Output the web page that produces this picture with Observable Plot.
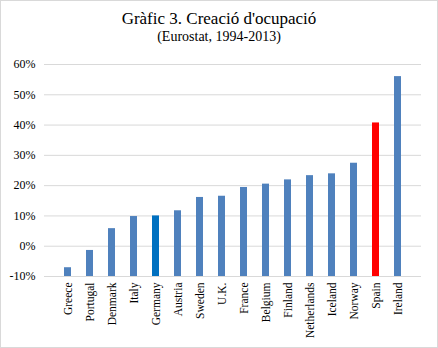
<!DOCTYPE html>
<html>
<head>
<meta charset="utf-8">
<script src="https://cdn.jsdelivr.net/npm/d3@7"></script>
<script src="https://cdn.jsdelivr.net/npm/@observablehq/plot@0.6"></script>
<style>
  html, body { margin: 0; padding: 0; background: #fff; }
  #wrap { position: relative; width: 438px; height: 348px; overflow: hidden; background: #fff; font-family: "Liberation Serif", "Times New Roman", serif; }
  #frame { position: absolute; left: 0; top: 0; width: 436px; height: 346px; border: 1px solid #d9d9d9; pointer-events: none; }
  #title { position: absolute; left: 0; width: 438px; top: 9px; text-align: center; font-size: 17px; color: #000; line-height: 20px; }
  #subtitle { position: absolute; left: 0; width: 438px; top: 28px; text-align: center; font-size: 14px; color: #000; line-height: 17px; }
  #chart { position: absolute; left: 0; top: 50px; }
  #chart svg text { font-family: "Liberation Serif", "Times New Roman", serif !important; }
</style>
</head>
<body>
<div id="wrap">
  <div id="title">Gràfic 3. Creació d'ocupació</div>
  <div id="subtitle">(Eurostat, 1994-2013)</div>
  <div id="chart"></div>
  <div id="frame"></div>
</div>
<script>
const countries = ["Greece","Portugal","Denmark","Italy","Germany","Austria","Sweden","U.K.","France","Belgium","Finland","Netherlands","Iceland","Norway","Spain","Ireland"];
const values = [-7.1, -1.4, 5.8, 9.8, 10.0, 11.7, 16.1, 16.5, 19.4, 20.5, 21.9, 23.3, 23.9, 27.4, 40.7, 56.0];
const yTicks = [-10, 0, 10, 20, 30, 40, 50, 60];
const highlight = {"Germany": "#0070C0", "Spain": "#FF0000"};
const baseColor = "#4F81BD";

const data = countries.map((c, i) => ({country: c, value: values[i]}));

const chart = Plot.plot({
  width: 438,
  height: 296,
  marginTop: 14,
  marginBottom: 70,
  marginLeft: 44,
  marginRight: 17,
  style: { fontSize: "12px", color: "#000", background: "transparent" },
  x: { domain: countries, padding: 0.69, label: null },
  y: { domain: [-10, 60], label: null },
  marks: [
    Plot.ruleY(yTicks, { stroke: "#d9d9d9", strokeWidth: 1 }),
    Plot.barY(data, { x: "country", y1: -10, y2: "value", fill: d => highlight[d.country] || baseColor }),
    Plot.axisY(yTicks, { tickSize: 0, tickPadding: 9, tickFormat: d => d + "%", fontSize: 12, label: null }),
    Plot.axisX({ tickSize: 0, tickPadding: 6, tickRotate: -90, fontSize: 11.5, label: null })
  ]
});
document.getElementById("chart").appendChild(chart);
</script>
</body>
</html>
